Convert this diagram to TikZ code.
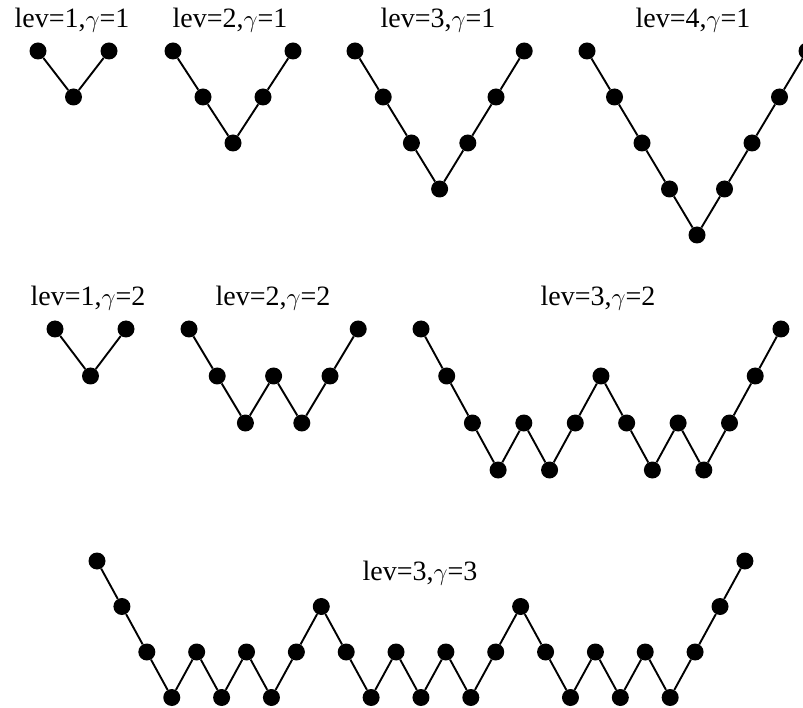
\documentclass[tikz,border=0pt]{standalone}
\usepackage{fontspec}
\setmainfont{Liberation Serif}
\begin{document}
\begin{tikzpicture}[x=1pt, y=-1pt,
		dot/.style={circle, fill, inner sep=0pt, minimum size=17pt},
		link/.style={line width=1.9pt},
		lbl/.style={font=\fontsize{28}{32}\selectfont, inner sep=0pt}]
		\useasboundingbox (0,0) rectangle (803,708);
		\node[lbl] (la) at (72, 20) {lev=1,$\gamma$=1};
		\node[lbl] (lb) at (230, 20) {lev=2,$\gamma$=1};
		\node[lbl] (lc) at (438, 20) {lev=3,$\gamma$=1};
		\node[lbl] (ld) at (693, 20) {lev=4,$\gamma$=1};
		\node[lbl] (le) at (88, 298) {lev=1,$\gamma$=2};
		\node[lbl] (lf) at (273, 298) {lev=2,$\gamma$=2};
		\node[lbl] (lg) at (598, 298) {lev=3,$\gamma$=2};
		\node[lbl] (lh) at (420, 573) {lev=3,$\gamma$=3};
		\foreach \d [count=\i] in {0,1,0}
			\node[dot] (a\i) at ({38+(\i-1)*35.5}, {51+\d*46}) {};
		\foreach \i [remember=\i as \j (initially 1)] in {2,3}
			\draw[link] (a\j) -- (a\i);
		\foreach \d [count=\i] in {0,1,2,1,0}
			\node[dot] (b\i) at ({173+(\i-1)*30}, {51+\d*46}) {};
		\foreach \i [remember=\i as \j (initially 1)] in {2,...,5}
			\draw[link] (b\j) -- (b\i);
		\foreach \d [count=\i] in {0,1,2,3,2,1,0}
			\node[dot] (c\i) at ({355+(\i-1)*28.2}, {51+\d*46}) {};
		\foreach \i [remember=\i as \j (initially 1)] in {2,...,7}
			\draw[link] (c\j) -- (c\i);
		\foreach \d [count=\i] in {0,1,2,3,4,3,2,1,0}
			\node[dot] (d\i) at ({587+(\i-1)*27.5}, {51+\d*46}) {};
		\foreach \i [remember=\i as \j (initially 1)] in {2,...,9}
			\draw[link] (d\j) -- (d\i);
		\foreach \d [count=\i] in {0,1,0}
			\node[dot] (e\i) at ({55+(\i-1)*35.5}, {329+\d*47}) {};
		\foreach \i [remember=\i as \j (initially 1)] in {2,3}
			\draw[link] (e\j) -- (e\i);
		\foreach \d [count=\i] in {0,1,2,1,2,1,0}
			\node[dot] (f\i) at ({189+(\i-1)*28.2}, {329+\d*47}) {};
		\foreach \i [remember=\i as \j (initially 1)] in {2,...,7}
			\draw[link] (f\j) -- (f\i);
		\foreach \d [count=\i] in {0,1,2,3,2,3,2,1,2,3,2,3,2,1,0}
			\node[dot] (g\i) at ({421+(\i-1)*25.71}, {329+\d*47}) {};
		\foreach \i [remember=\i as \j (initially 1)] in {2,...,15}
			\draw[link] (g\j) -- (g\i);
		\foreach \d [count=\i] in {0,1,2,3,2,3,2,3,2,1,2,3,2,3,2,3,2,1,2,3,2,3,2,3,2,1,0}
			\node[dot] (h\i) at ({97+(\i-1)*24.92}, {561+\d*45.5}) {};
		\foreach \i [remember=\i as \j (initially 1)] in {2,...,27}
			\draw[link] (h\j) -- (h\i);
	\end{tikzpicture}
\end{document}
